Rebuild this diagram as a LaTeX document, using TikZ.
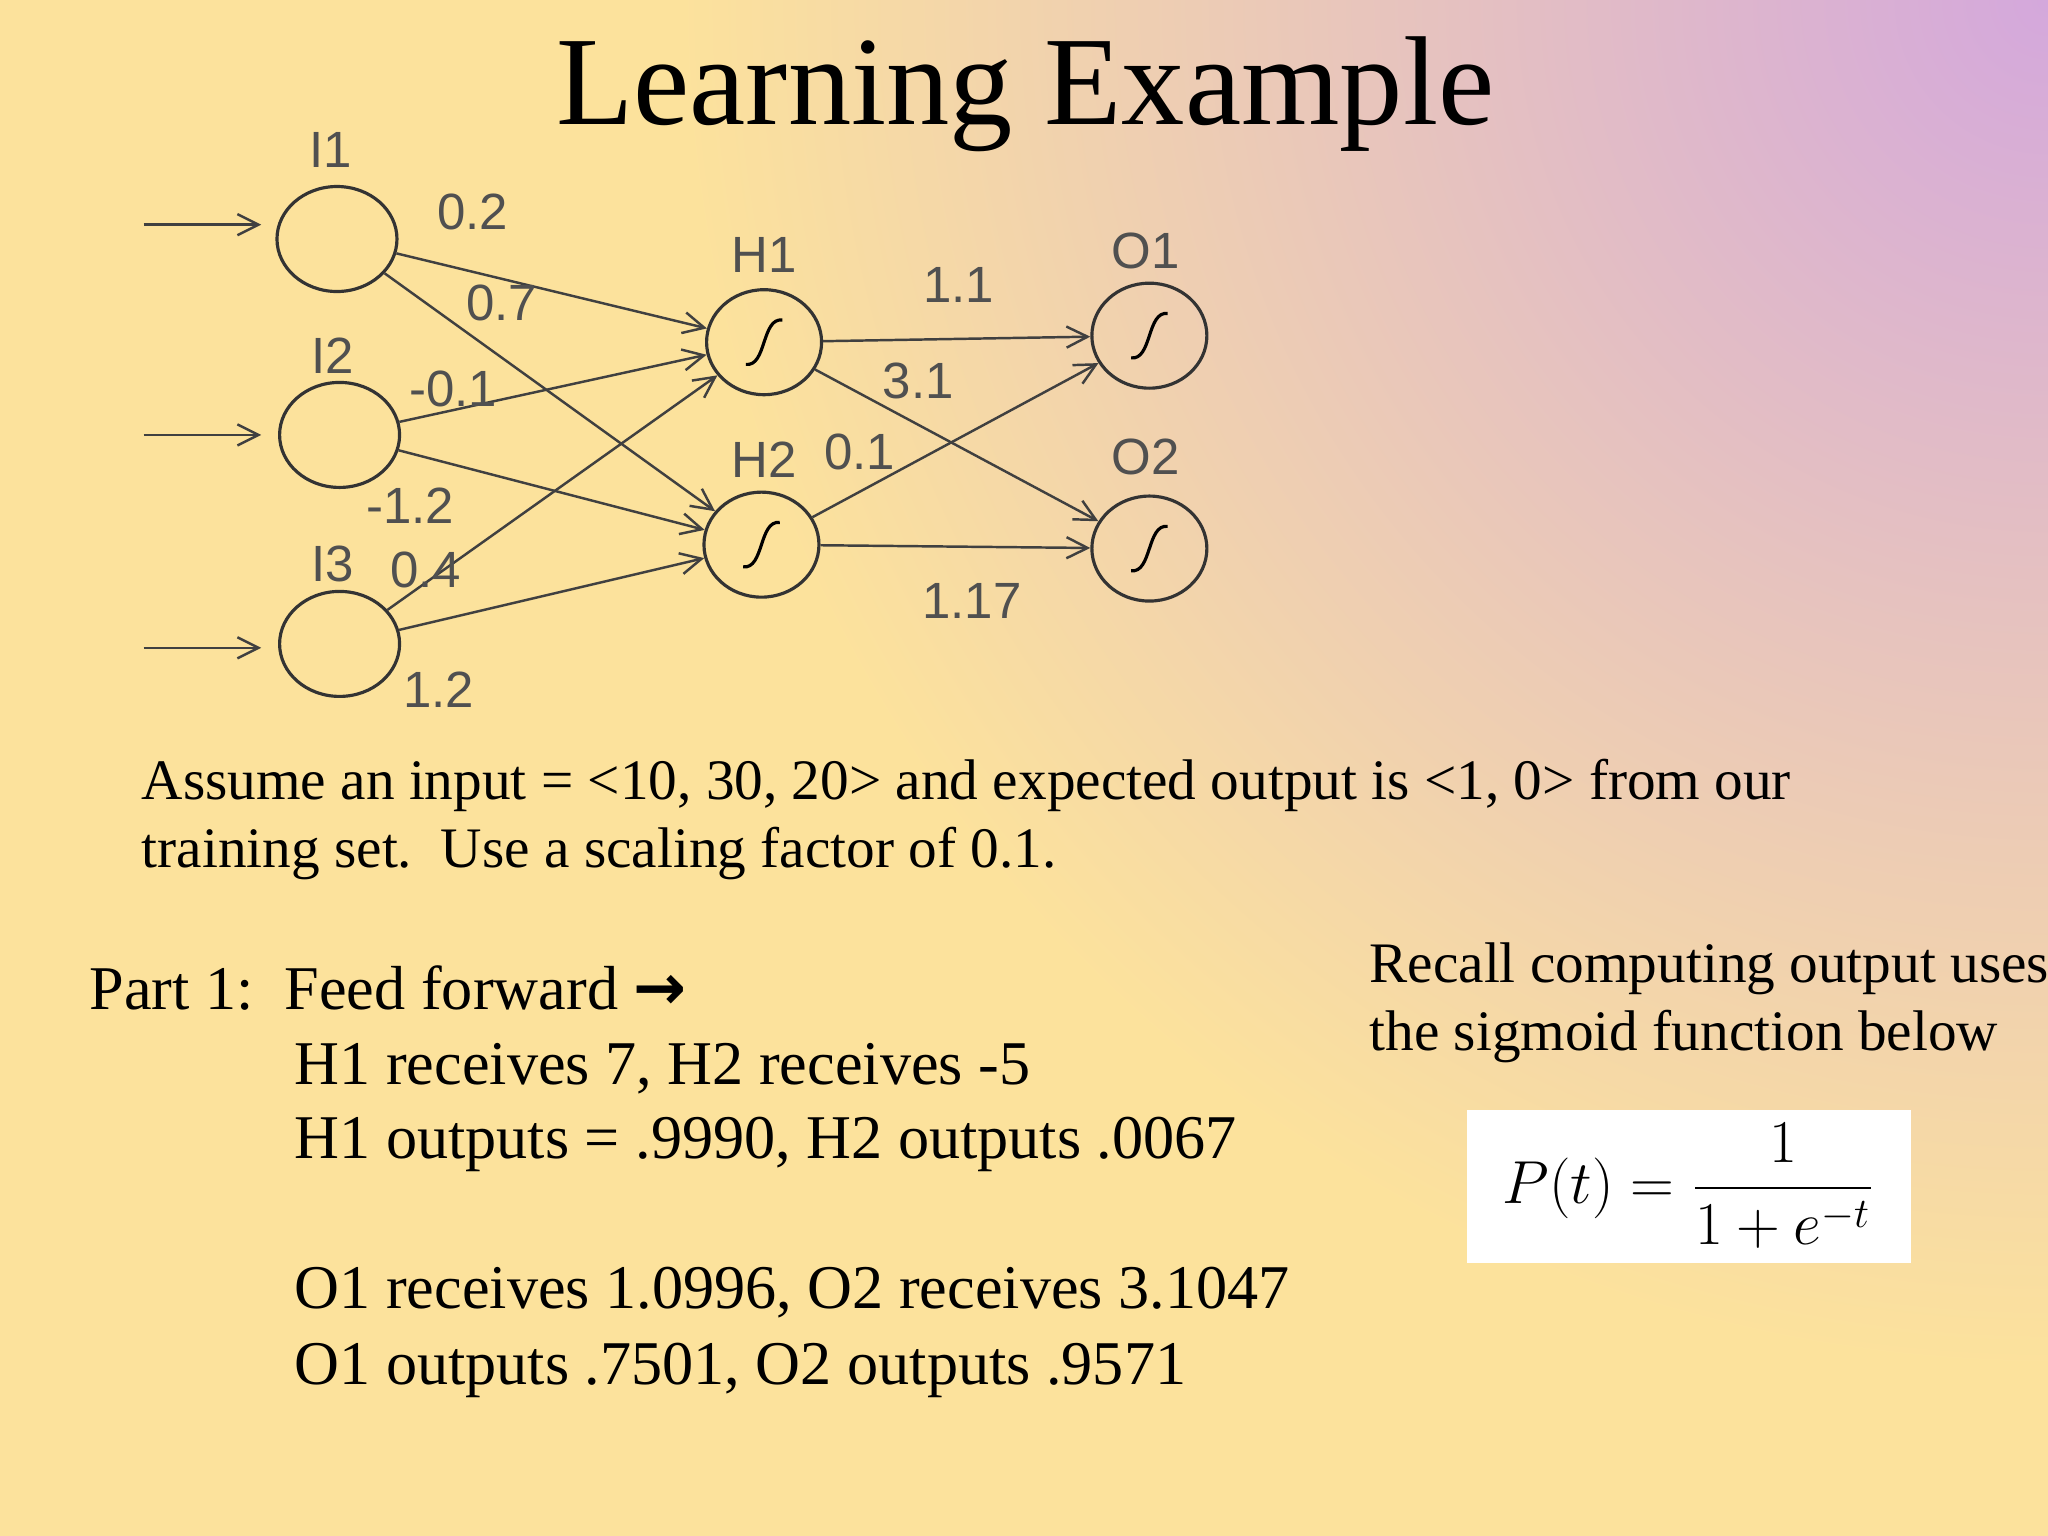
\documentclass[tikz,border=0pt]{standalone}
\usepackage{amsmath}
\usepackage{fontspec}
\setmainfont{Liberation Serif}
\newfontfamily\lsans{Liberation Sans}
\newfontfamily\dejavu{DejaVu Sans}
\usetikzlibrary{arrows.meta,shapes.geometric}
\definecolor{bgyellow}{HTML}{FCE29C}
\definecolor{bgpurple}{HTML}{D4A8DC}
\definecolor{lblgray}{HTML}{505050}
\tikzset{
  x=0.01306cm, y=-0.01306cm,
  neuron/.style={draw=black!80, line width=0.9pt, ellipse, minimum width=1.2cm, minimum height=1.05cm, inner sep=0},
  wire/.style={draw=black!75, line width=0.7pt, -{Straight Barb[length=6pt,width=6pt]}},
  lbl/.style={font=\lsans\fontsize{14.5}{17}\selectfont, text=lblgray, inner sep=0},
  body/.style={font=\fontsize{16.3}{19}\selectfont, anchor=base west, inner sep=0},
  bodybig/.style={font=\fontsize{17.7}{20}\selectfont, anchor=base west, inner sep=0},
}
\newcommand{\sig}[1]{\draw[line width=0.9pt] ([shift={(-14,17)}]#1) .. controls ([shift={(2,19)}]#1) and ([shift={(-2,-19)}]#1) .. ([shift={(14,-17)}]#1);}
\begin{document}
\begin{tikzpicture}
\useasboundingbox (0,0) rectangle (1568,1176);
\fill[bgyellow] (0,0) rectangle (1568,1176);
\begin{scope}
\clip (0,0) rectangle (1568,1176);
\shade[inner color=bgpurple, outer color=bgyellow] (1568,0) circle (1050);
\end{scope}
\node[font=\fontsize{36}{40}\selectfont, anchor=base, inner sep=0] (title) at (785,95) {Learning Example};
\node[neuron] (i1) at (258,183) {};
\node[neuron] (i2) at (260,333) {};
\node[neuron] (i3) at (260,493) {};
\node[neuron, minimum width=1.15cm] (h1) at (585,262) {};
\node[neuron, minimum width=1.15cm] (h2) at (583,417) {};
\node[neuron, minimum width=1.15cm] (o1) at (880,257) {};
\node[neuron, minimum width=1.15cm] (o2) at (880,420) {};
\sig{h1.center}\sig{h2.center}\sig{o1.center}\sig{o2.center}
\coordinate (a1) at (110,172); \coordinate (a2) at (110,333); \coordinate (a3) at (110,496);
\coordinate (b1) at (200,172); \coordinate (b2) at (200,333); \coordinate (b3) at (200,496);
\draw[wire] (a1) -- (b1);
\draw[wire] (a2) -- (b2);
\draw[wire] (a3) -- (b3);
\draw[wire] (i1) -- (h1);
\draw[wire] (i1) -- (h2);
\draw[wire] (i2) -- (h1);
\draw[wire] (i2) -- (h2);
\draw[wire] (i3) -- (h1);
\draw[wire] (i3) -- (h2);
\draw[wire] (h1) -- (o1);
\draw[wire] (h1) -- (o2);
\draw[wire] (h2) -- (o1);
\draw[wire] (h2) -- (o2);
\node[lbl] (li1) at (253,115) {I1};
\node[lbl] (li2) at (255,272) {I2};
\node[lbl] (li3) at (255,432) {I3};
\node[lbl] (lh1) at (585,195) {H1};
\node[lbl] (lh2) at (585,352) {H2};
\node[lbl] (lo1) at (877,192) {O1};
\node[lbl] (lo2) at (877,350) {O2};
\node[lbl] (w1) at (362,162) {0.2};
\node[lbl] (w2) at (384,232) {0.7};
\node[lbl] (w3) at (347,298) {-0.1};
\node[lbl] (w4) at (314,387) {-1.2};
\node[lbl] (w5) at (326,436) {0.4};
\node[lbl] (w6) at (336,528) {1.2};
\node[lbl] (w7) at (734,218) {1.1};
\node[lbl] (w8) at (703,292) {3.1};
\node[lbl] (w9) at (658,346) {0.1};
\node[lbl] (w10) at (744,460) {1.17};
\node[body] (t1) at (108,612) {Assume an input = <10, 30, 20> and expected output is <1, 0> from our};
\node[body] (t2) at (108,664) {training set.\ \ Use a scaling factor of 0.1.};
\node[bodybig] (t3) at (68,773) {Part 1:\ \ Feed forward {\dejavu\bfseries\fontsize{18}{20}\selectfont →}};
\node[bodybig] (t4) at (225,830) {H1 receives 7, H2 receives -5};
\node[bodybig] (t5) at (225,887) {H1 outputs = .9990, H2 outputs .0067};
\node[bodybig] (t6) at (225,1002) {O1 receives 1.0996, O2 receives 3.1047};
\node[bodybig] (t7) at (225,1060) {O1 outputs .7501, O2 outputs .9571};
\node[body] (t8) at (1048,752) {Recall computing output uses};
\node[body] (t9) at (1048,804) {the sigmoid function below};
\fill[white] (1123,850) rectangle (1463,967);
\node[inner sep=0, font=\fontsize{18}{20}\selectfont] (f) at (1293,908) {$P(t)=\dfrac{1}{1+e^{-t}}$};
\end{tikzpicture}
\end{document}
